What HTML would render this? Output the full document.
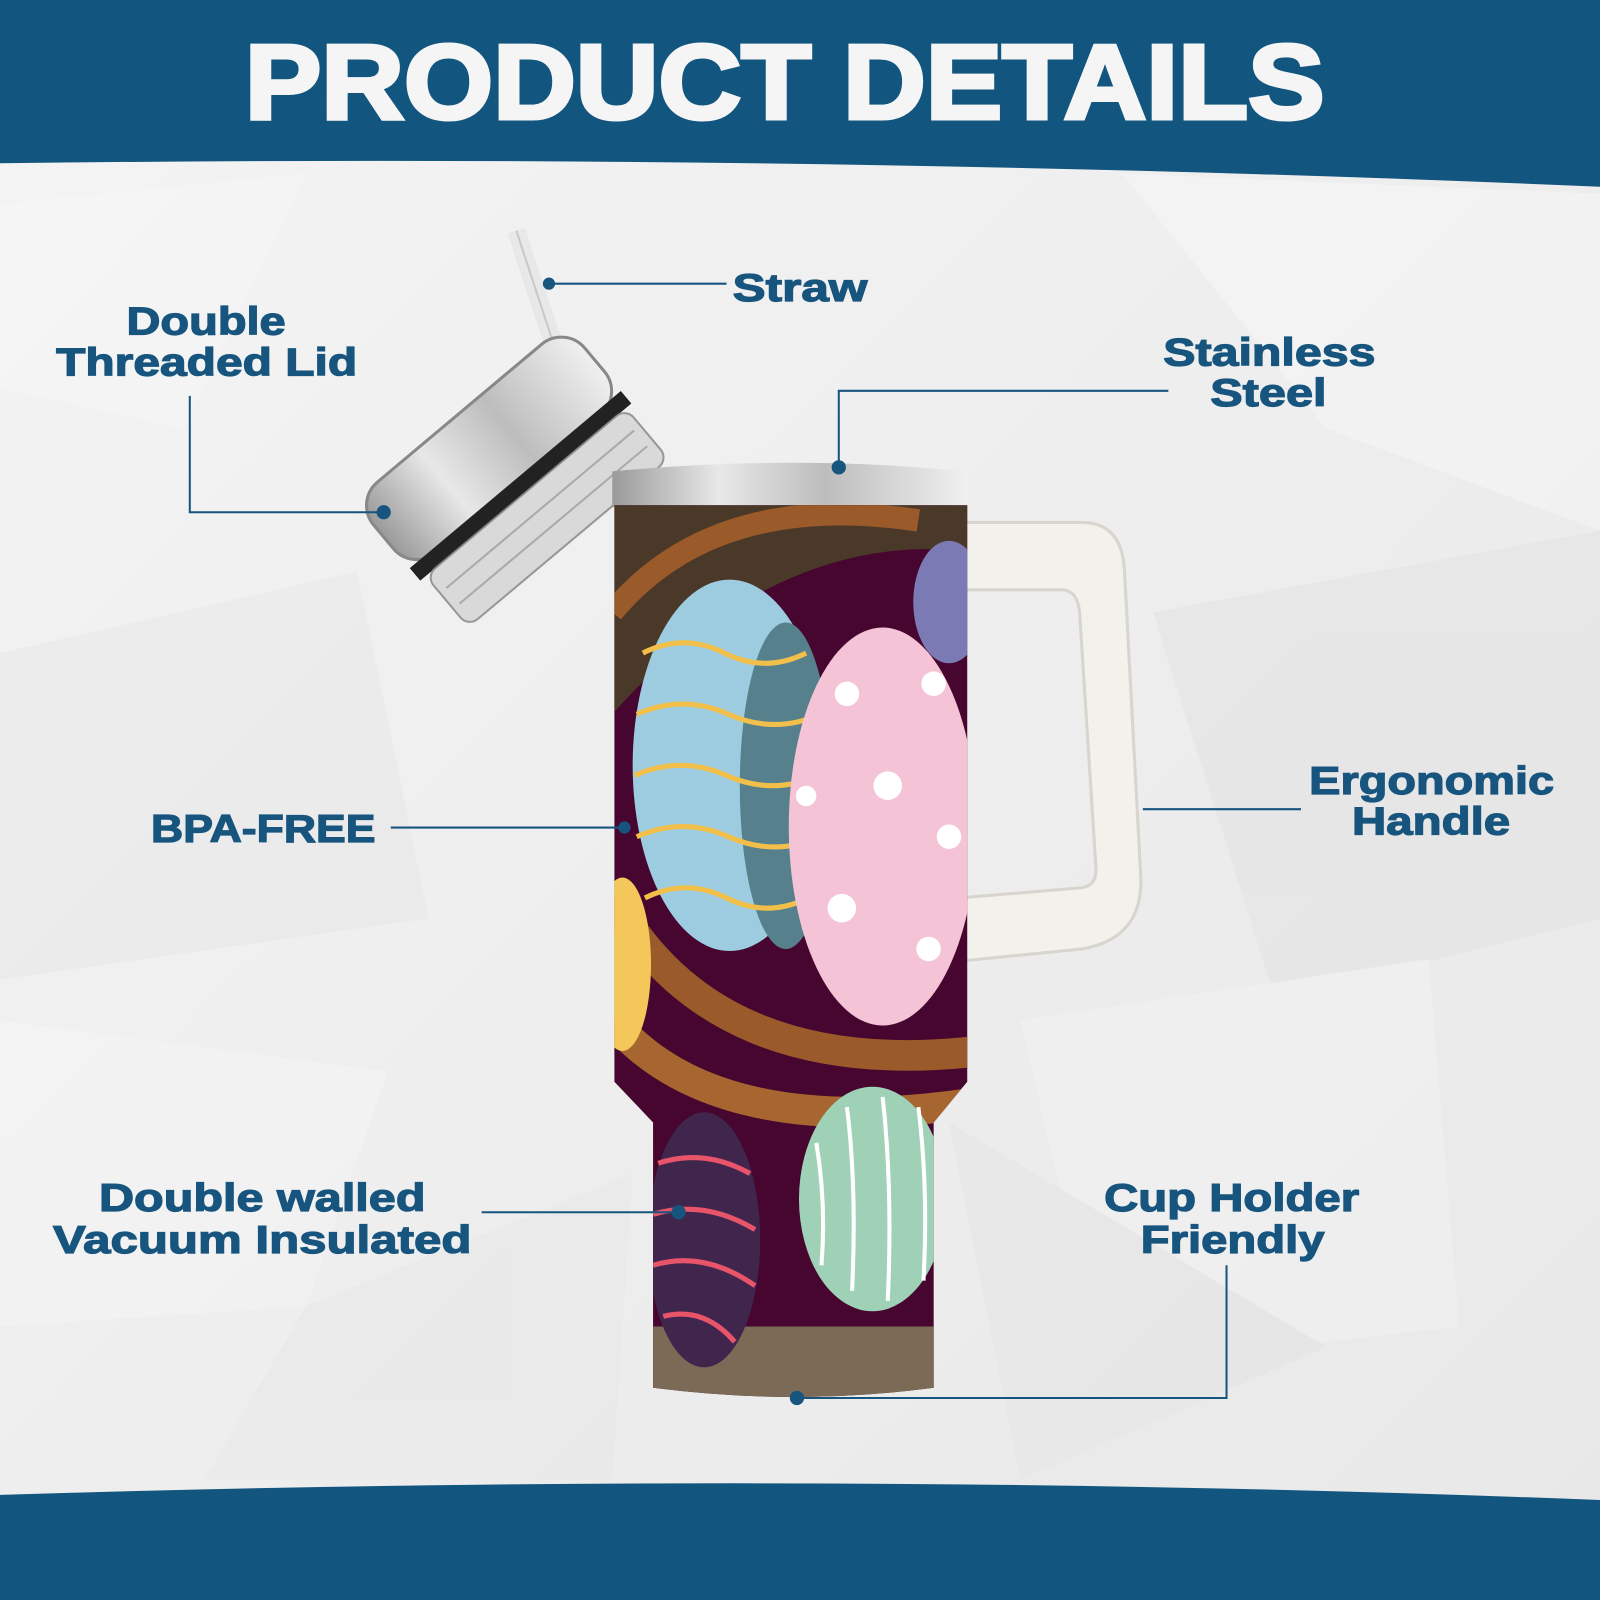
<!DOCTYPE html>
<html><head><meta charset="utf-8"><style>
html,body{margin:0;padding:0;background:#eee;}
svg{display:block}
text{font-family:"Liberation Sans",Arial,sans-serif;font-weight:bold;fill:#17557f;stroke:#17557f;stroke-width:1.2;}
</style></head><body>
<svg width="1600" height="1600" viewBox="0 0 1568 1568" xmlns="http://www.w3.org/2000/svg">
<defs>
<linearGradient id="bg" x1="0" y1="0" x2="1" y2="1"><stop offset="0" stop-color="#f4f4f4"/><stop offset="1" stop-color="#e8e8e8"/></linearGradient>
<linearGradient id="steel" x1="0" y1="0" x2="1" y2="0"><stop offset="0" stop-color="#9a9a9a"/><stop offset=".3" stop-color="#e8e8e8"/><stop offset=".6" stop-color="#bdbdbd"/><stop offset="1" stop-color="#f0f0f0"/></linearGradient>
<clipPath id="body"><path d="M602 495 L948 495 L948 1060 L915 1100 L915 1360 Q780 1378 640 1360 L640 1100 L602 1060 Z"/></clipPath>
</defs>
<rect width="1568" height="1568" fill="url(#bg)"/>
<g opacity=".35">
<polygon points="0,200 300,170 180,420 0,380" fill="#fafafa"/>
<polygon points="1100,170 1568,190 1568,520 1300,420" fill="#fbfbfb"/>
<polygon points="0,640 350,560 420,900 0,960" fill="#e2e2e2"/>
<polygon points="1130,600 1568,520 1568,900 1250,980" fill="#dedede"/>
<polygon points="0,1000 380,1050 300,1280 0,1300" fill="#f9f9f9"/>
<polygon points="1000,1000 1400,940 1430,1300 1080,1340" fill="#f7f7f7"/>
<polygon points="300,1280 620,1150 600,1450 200,1450" fill="#e4e4e4"/>
<polygon points="930,1100 1300,1320 1000,1450" fill="#e1e1e1"/>
</g>
<!-- header -->
<path d="M0 0 H1568 V183 Q800 150 0 160 Z" fill="#12557e"/>
<text x="769" y="116" text-anchor="middle" font-size="104" style="fill:#f5f5f5;stroke:#f5f5f5;stroke-width:4" textLength="1058" lengthAdjust="spacingAndGlyphs">PRODUCT DETAILS</text>
<!-- footer -->
<path d="M0 1465 Q800 1440 1568 1470 V1568 H0 Z" fill="#12557e"/>

<!-- handle -->
<path d="M940 512 L1060 512 Q1100 512 1102 560 L1118 860 Q1120 920 1060 930 L940 942 L940 880 L1060 870 Q1075 868 1074 850 L1058 600 Q1056 578 1040 578 L940 578 Z" fill="#f3f1ec" stroke="#d8d5cf" stroke-width="3"/>
<!-- straw -->
<line x1="506" y1="226" x2="550" y2="360" stroke="#e8e8e8" stroke-width="18"/>
<line x1="506" y1="226" x2="550" y2="360" stroke="#c8c8c8" stroke-width="2"/>
<!-- lid -->
<g transform="rotate(-40 505 470)">
<rect x="370" y="385" width="270" height="90" rx="30" fill="url(#steel)" stroke="#888" stroke-width="3"/>
<rect x="370" y="470" width="270" height="16" fill="#222"/>
<rect x="377" y="486" width="256" height="65" rx="12" fill="#d6d6d6" opacity=".85" stroke="#888" stroke-width="2"/>
<g stroke="#aaa" stroke-width="2"><line x1="385" y1="508" x2="625" y2="508"/><line x1="385" y1="528" x2="625" y2="528"/></g>
</g>
<!-- rim -->
<path d="M600 462 Q775 445 948 462 L948 497 L600 497 Z" fill="url(#steel)"/>
<!-- body -->
<g clip-path="url(#body)">
<rect x="590" y="480" width="370" height="900" fill="#46062f"/>
<path d="M600 495 L948 495 L948 540 Q760 520 600 700 Z" fill="#4a3828"/>
<path d="M600 600 Q700 480 900 510" stroke="#9b5a2a" stroke-width="22" fill="none"/>
<path d="M600 880 Q700 1060 960 1030" stroke="#9b5a2a" stroke-width="30" fill="none"/>
<path d="M600 1000 Q700 1120 960 1080" stroke="#a7662f" stroke-width="30" fill="none"/>
<path d="M640 1300 L960 1300 L960 1380 L640 1380 Z" fill="#7b6a55"/>
<ellipse cx="715" cy="750" rx="95" ry="182" fill="#9dcbe0"/>
<ellipse cx="770" cy="770" rx="45" ry="160" fill="#55808c"/>
<g stroke="#f2c04a" stroke-width="5" fill="none">
<path d="M630 640 q40 -20 80 0 t80 0"/><path d="M624 700 q45 -20 90 0 t90 0"/><path d="M622 760 q45 -20 90 0 t90 0"/><path d="M624 820 q45 -20 90 0 t90 0"/><path d="M632 880 q40 -20 80 0 t80 0"/>
</g>
<ellipse cx="930" cy="590" rx="35" ry="60" fill="#7b7ab4"/>
<ellipse cx="865" cy="810" rx="92" ry="195" fill="#f4c4d6"/>
<g fill="#fff"><circle cx="830" cy="680" r="12"/><circle cx="915" cy="670" r="12"/><circle cx="870" cy="770" r="14"/><circle cx="930" cy="820" r="12"/><circle cx="825" cy="890" r="14"/><circle cx="910" cy="930" r="12"/><circle cx="790" cy="780" r="10"/></g>
<ellipse cx="610" cy="945" rx="28" ry="85" fill="#f4c75a"/>
<ellipse cx="690" cy="1215" rx="55" ry="125" fill="#40254d"/>
<g stroke="#e8546a" stroke-width="5" fill="none"><path d="M645 1140 q45 -15 90 10"/><path d="M640 1190 q50 -15 100 15"/><path d="M640 1240 q50 -15 100 20"/><path d="M650 1290 q40 -10 70 25"/></g>
<ellipse cx="855" cy="1175" rx="72" ry="110" fill="#9ed1b6"/>
<g stroke="#fff" stroke-width="4" fill="none"><path d="M800 1120 q10 60 5 120"/><path d="M830 1085 q10 80 5 180"/><path d="M865 1075 q10 90 5 200"/><path d="M900 1085 q10 80 5 170"/></g>
</g>

<!-- connectors -->
<g stroke="#17557f" stroke-width="2" fill="none">
<path d="M538 278 H712"/>
<path d="M186 388 V502 H376"/>
<path d="M1145 383 H822 V458"/>
<path d="M1275 793 H1120"/>
<path d="M383 811 H612"/>
<path d="M472 1188 H665"/>
<path d="M1202 1240 V1370 H781"/>
</g>
<g fill="#17557f"><circle cx="538" cy="278" r="6"/><circle cx="376" cy="502" r="7"/><circle cx="822" cy="458" r="7"/><circle cx="612" cy="811" r="6"/><circle cx="665" cy="1188" r="7"/><circle cx="781" cy="1370" r="7"/></g>

<!-- labels -->
<g font-size="38">
<text x="718" y="295" textLength="132" lengthAdjust="spacingAndGlyphs">Straw</text>
<text x="124" y="328" textLength="156" lengthAdjust="spacingAndGlyphs">Double</text>
<text x="55" y="368" textLength="295" lengthAdjust="spacingAndGlyphs">Threaded Lid</text>
<text x="1140" y="358" textLength="208" lengthAdjust="spacingAndGlyphs">Stainless</text>
<text x="1186" y="398" textLength="114" lengthAdjust="spacingAndGlyphs">Steel</text>
<text x="1283" y="778" textLength="240" lengthAdjust="spacingAndGlyphs">Ergonomic</text>
<text x="1325" y="818" textLength="155" lengthAdjust="spacingAndGlyphs">Handle</text>
<text x="148" y="825" textLength="220" lengthAdjust="spacingAndGlyphs">BPA-FREE</text>
<text x="97" y="1187" textLength="320" lengthAdjust="spacingAndGlyphs">Double walled</text>
<text x="52" y="1228" textLength="410" lengthAdjust="spacingAndGlyphs">Vacuum Insulated</text>
<text x="1082" y="1187" textLength="250" lengthAdjust="spacingAndGlyphs">Cup Holder</text>
<text x="1118" y="1228" textLength="180" lengthAdjust="spacingAndGlyphs">Friendly</text>
</g>
</svg>
</body></html>
